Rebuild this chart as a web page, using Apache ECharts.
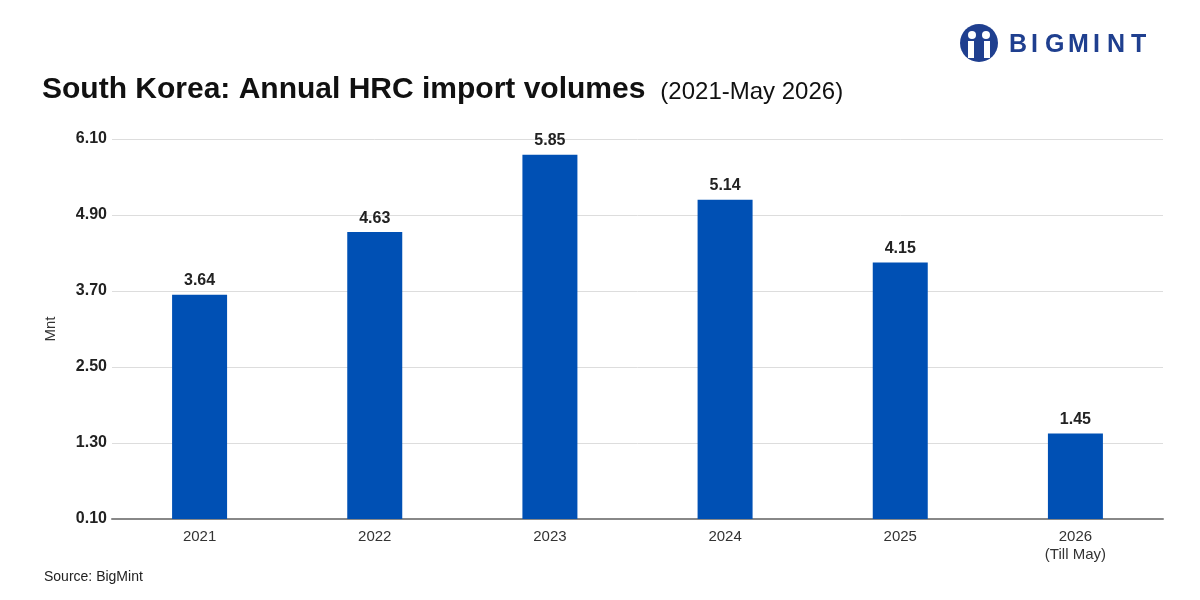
<!DOCTYPE html>
<html>
<head>
<meta charset="utf-8">
<script src="https://cdn.jsdelivr.net/npm/echarts@6/dist/echarts.min.js"></script>
<style>
html,body{margin:0;padding:0;background:#fff;}
#chart{width:1200px;height:600px;}
</style>
</head>
<body>
<div id="chart"></div>
<script>
// data
var years = ['2021', '2022', '2023', '2024', '2025', '2026\n(Till May)'];
var volumes = [3.64, 4.63, 5.85, 5.14, 4.15, 1.45];
var yTicks = [0.10, 1.30, 2.50, 3.70, 4.90, 6.10];

var myChart = echarts.init(document.getElementById('chart'));
var font = '"Liberation Sans", Arial, sans-serif';
var logoLetters = ['B', 'I', 'G', 'M', 'I', 'N', 'T'];
var logoX = [1009, 1031, 1045, 1068, 1093, 1107, 1131];

var logo = [
	{type: 'circle', shape: {cx: 979, cy: 43, r: 19}, style: {fill: '#1f3f8f'}},
	{type: 'circle', shape: {cx: 972, cy: 35, r: 4}, style: {fill: '#fff'}},
	{type: 'circle', shape: {cx: 986, cy: 35, r: 4}, style: {fill: '#fff'}},
	{type: 'rect', shape: {x: 968, y: 41, width: 6, height: 17}, style: {fill: '#fff'}},
	{type: 'rect', shape: {x: 984, y: 41, width: 6, height: 17}, style: {fill: '#fff'}}
];
logoLetters.forEach(function(l, i){
	logo.push({type: 'text', left: logoX[i], top: 33,
		style: {text: l, fill: '#1f3f8f', font: 'bold 25px ' + font}});
});

var option = {
	backgroundColor: '#fff',
	textStyle: {fontFamily: font},
	title: {
		left: 37,
		top: 70,
		text: '{a|South Korea: Annual HRC import volumes} {b|(2021-May 2026)}',
		textStyle: {
			rich: {
				a: {fontSize: 30, fontWeight: 'bold', color: '#111', fontFamily: font},
				b: {fontSize: 24, fontWeight: 'normal', color: '#111', fontFamily: font, padding: [4, 0, 0, 10]}
			}
		}
	},
	graphic: logo.concat([
		{type: 'text', left: 44, top: 570,
			style: {text: 'Source: BigMint', fill: '#222', font: '14px ' + font}}
	]),
	grid: {left: 112, right: 37, top: 139, bottom: 81},
	xAxis: {
		type: 'category',
		data: years,
		axisTick: {show: false},
		axisLine: {lineStyle: {color: '#888', width: 2}},
		axisLabel: {color: '#333', fontSize: 15, margin: 9, lineHeight: 18}
	},
	yAxis: {
		type: 'value',
		min: yTicks[0],
		max: yTicks[yTicks.length - 1],
		interval: 1.2,
		name: 'Mnt',
		nameLocation: 'middle',
		nameGap: 54,
		nameTextStyle: {color: '#333', fontSize: 15},
		axisLine: {show: false},
		axisTick: {show: false},
		splitLine: {lineStyle: {color: '#ddd', width: 1}},
		axisLabel: {
			color: '#222', fontSize: 16, fontWeight: 'bold', margin: 5,
			formatter: function(v){ return v.toFixed(2); }
		}
	},
	series: [{
		type: 'bar',
		data: volumes,
		barWidth: 55,
		itemStyle: {color: '#0050b4'},
		label: {
			show: true, position: 'top', distance: 6,
			color: '#222', fontSize: 16, fontWeight: 'bold',
			formatter: function(p){ return p.value.toFixed(2); }
		}
	}]
};
myChart.setOption(option);
</script>
</body>
</html>
